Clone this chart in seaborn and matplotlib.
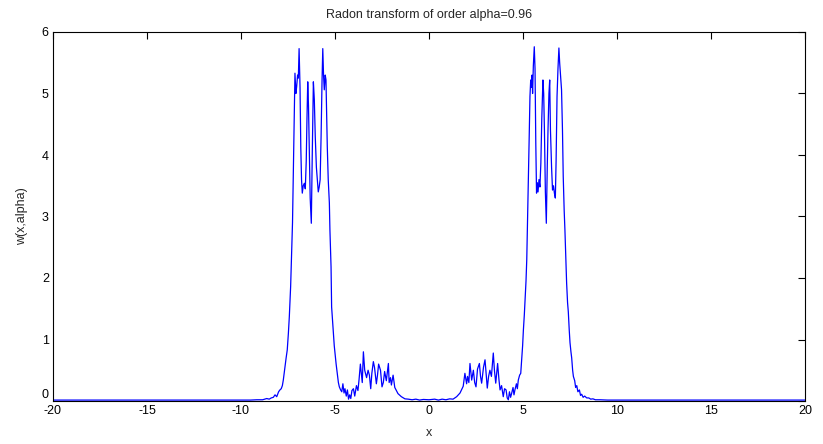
import matplotlib
matplotlib.use("Agg")
import matplotlib.pyplot as plt
import seaborn as sns
import pandas as pd

# Right half of the curve (x >= 0)
x_right = [0.00, 0.30, 0.50, 0.70, 0.90, 1.10, 1.28, 1.47, 1.65, 1.82, 1.91, 2.00, 2.05, 2.12,
           2.18, 2.27, 2.36, 2.43, 2.50, 2.58, 2.68, 2.74, 2.80, 2.90, 2.98, 3.04, 3.10, 3.17,
           3.24, 3.32, 3.42, 3.48, 3.55, 3.60, 3.65, 3.72, 3.78, 3.86, 3.95, 4.02, 4.10, 4.16,
           4.22, 4.28, 4.34, 4.40, 4.47, 4.52, 4.57, 4.65, 4.70, 4.75, 4.82, 4.88, 4.93, 4.98,
           5.02, 5.07, 5.11, 5.16, 5.20, 5.24, 5.28, 5.33, 5.37, 5.41, 5.45, 5.48, 5.51, 5.55,
           5.60, 5.64, 5.68, 5.72, 5.76, 5.80, 5.85, 5.90, 5.95, 6.00, 6.06, 6.10, 6.14, 6.19,
           6.24, 6.29, 6.33, 6.38, 6.42, 6.46, 6.52, 6.57, 6.62, 6.67, 6.72, 6.76, 6.81, 6.86,
           6.91, 6.95, 7.00, 7.05, 7.10, 7.14, 7.19, 7.23, 7.28, 7.32, 7.37, 7.41, 7.46, 7.50,
           7.55, 7.59, 7.64, 7.68, 7.75, 7.80, 7.86, 7.92, 8.00, 8.06, 8.12, 8.20, 8.28, 8.39,
           8.50, 8.60, 8.72, 8.85, 9.10, 9.50, 10.0, 12.0, 15.0, 20.0]
w_right = [0.020, 0.030, 0.015, 0.030, 0.020, 0.035, 0.030, 0.070, 0.130, 0.240, 0.450, 0.280,
           0.400, 0.300, 0.610, 0.340, 0.500, 0.300, 0.230, 0.520, 0.610, 0.400, 0.290, 0.550,
           0.670, 0.450, 0.210, 0.400, 0.500, 0.400, 0.780, 0.500, 0.290, 0.450, 0.610, 0.350,
           0.180, 0.250, 0.070, 0.200, 0.180, 0.050, 0.020, 0.150, 0.060, 0.130, 0.220, 0.100,
           0.180, 0.280, 0.200, 0.340, 0.420, 0.450, 0.680, 0.900, 1.150, 1.400, 1.650, 1.950,
           2.300, 2.900, 3.550, 4.300, 4.950, 5.220, 5.100, 5.300, 5.000, 5.450, 5.760, 5.400,
           4.200, 3.380, 3.550, 3.400, 3.600, 3.480, 3.870, 4.600, 5.220, 5.000, 4.400, 3.400,
           2.890, 3.800, 4.410, 5.000, 5.220, 4.410, 3.800, 3.430, 3.500, 3.380, 3.300, 3.900,
           4.950, 5.400, 5.740, 5.500, 5.270, 5.060, 4.400, 3.650, 3.100, 2.780, 2.300, 1.920,
           1.600, 1.450, 1.150, 0.950, 0.800, 0.700, 0.500, 0.400, 0.330, 0.220, 0.250, 0.150,
           0.180, 0.090, 0.110, 0.060, 0.080, 0.050, 0.050, 0.030, 0.035, 0.020, 0.020, 0.015,
           0.015, 0.015, 0.015, 0.015]

# Left half of the curve (x < 0)
x_left = [-20.0, -15.0, -12.0, -10.0, -9.50, -9.16, -8.85, -8.63, -8.50, -8.39, -8.28, -8.19,
          -8.10, -8.00, -7.93, -7.86, -7.80, -7.75, -7.66, -7.60, -7.54, -7.48, -7.43, -7.36,
          -7.30, -7.26, -7.22, -7.17, -7.13, -7.08, -7.04, -6.99, -6.95, -6.91, -6.86, -6.82,
          -6.78, -6.74, -6.69, -6.63, -6.58, -6.53, -6.49, -6.45, -6.41, -6.37, -6.32, -6.26,
          -6.21, -6.15, -6.10, -6.05, -5.99, -5.94, -5.89, -5.84, -5.79, -5.74, -5.69, -5.65,
          -5.61, -5.57, -5.52, -5.48, -5.41, -5.36, -5.30, -5.27, -5.21, -5.18, -5.13, -5.09,
          -5.04, -5.00, -4.94, -4.88, -4.82, -4.77, -4.70, -4.64, -4.58, -4.52, -4.47, -4.40,
          -4.34, -4.28, -4.22, -4.16, -4.10, -4.02, -3.95, -3.86, -3.78, -3.72, -3.65, -3.60,
          -3.55, -3.49, -3.42, -3.32, -3.24, -3.17, -3.10, -3.04, -2.96, -2.90, -2.80, -2.74,
          -2.68, -2.58, -2.50, -2.43, -2.36, -2.27, -2.16, -2.12, -2.05, -2.00, -1.91, -1.82,
          -1.65, -1.47, -1.28, -1.10, -0.90, -0.70, -0.50, -0.30]
w_left = [0.015, 0.015, 0.015, 0.015, 0.015, 0.020, 0.020, 0.040, 0.030, 0.050, 0.060, 0.100,
          0.070, 0.150, 0.180, 0.200, 0.250, 0.340, 0.560, 0.700, 0.830, 1.100, 1.370, 1.860,
          2.460, 2.900, 3.650, 4.600, 5.330, 5.000, 5.110, 5.300, 5.250, 5.730, 5.100, 4.130,
          3.600, 3.380, 3.500, 3.540, 3.450, 3.900, 4.600, 5.190, 4.800, 4.100, 3.300, 2.890,
          4.000, 5.190, 4.900, 4.300, 3.800, 3.590, 3.400, 3.480, 3.600, 4.300, 5.200, 5.730,
          5.300, 5.060, 5.300, 5.220, 4.130, 3.600, 3.220, 2.780, 2.180, 1.530, 1.300, 1.100,
          0.900, 0.780, 0.600, 0.450, 0.300, 0.230, 0.180, 0.150, 0.280, 0.130, 0.200, 0.080,
          0.180, 0.030, 0.100, 0.040, 0.170, 0.200, 0.080, 0.250, 0.170, 0.350, 0.600, 0.450,
          0.300, 0.800, 0.500, 0.380, 0.500, 0.420, 0.200, 0.450, 0.640, 0.550, 0.280, 0.420,
          0.600, 0.500, 0.230, 0.300, 0.480, 0.330, 0.610, 0.300, 0.380, 0.260, 0.420, 0.220,
          0.120, 0.070, 0.035, 0.030, 0.020, 0.030, 0.015, 0.025]

x_ticks = [-20, -15, -10, -5, 0, 5, 10, 15, 20]
y_ticks = [0, 1, 2, 3, 4, 5, 6]
title_text = "Radon transform of order alpha=0.96"
x_label = "x"
y_label = "w(x,alpha)"

df = pd.DataFrame({"x": x_left + x_right, "w": w_left + w_right})

sns.set_style("white")
plt.rcParams["font.family"] = ["Liberation Sans", "DejaVu Sans"]

fig = plt.figure(figsize=(8.23, 4.44), dpi=100)
ax = fig.add_axes([53 / 823, (444 - 401) / 444, (805 - 53) / 823, (401 - 32) / 444])

sns.lineplot(data=df, x="x", y="w", ax=ax, color="#0000ff", linewidth=0.9,
             estimator=None, sort=True)

ax.set_xlim(-20, 20)
ax.set_ylim(0, 6)
ax.set_xticks(x_ticks)
ax.set_yticks(y_ticks)
ax.set_xticklabels([str(t) for t in x_ticks])
ax.set_yticklabels([str(t) for t in y_ticks])
ax.tick_params(direction="in", length=5, width=0.8, top=True, right=True,
               labelsize=9, colors="black", pad=3)
ax.get_yticklabels()[0].set_verticalalignment("bottom")
for s in ax.spines.values():
    s.set_visible(True)
    s.set_color("black")
    s.set_linewidth(0.8)

ax.set_title(title_text, fontsize=9, pad=10)
ax.set_xlabel(x_label, fontsize=9, labelpad=7)
ax.set_ylabel(y_label, fontsize=9, labelpad=10)

fig.savefig("out.png", dpi=100, facecolor="white")
